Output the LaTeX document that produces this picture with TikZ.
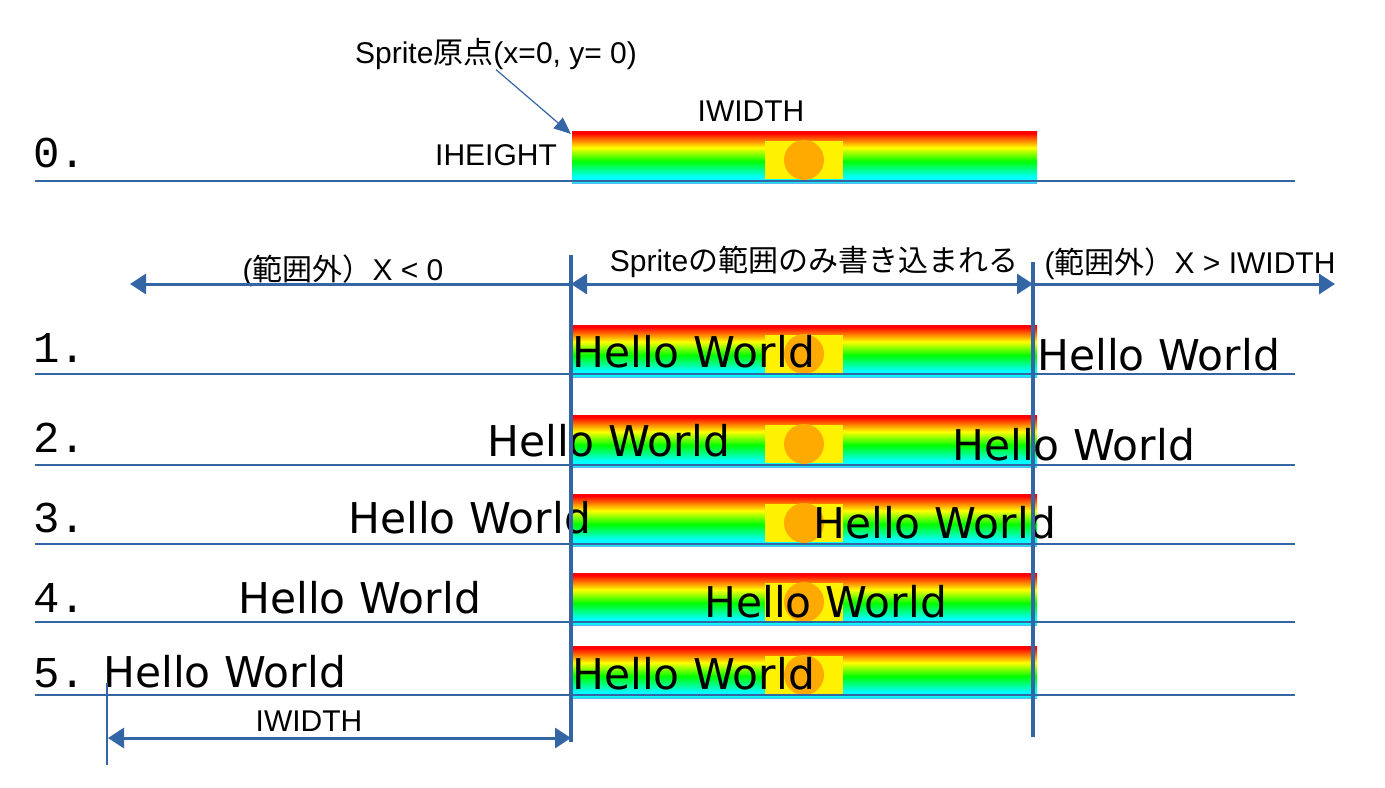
\documentclass[tikz,border=0pt]{standalone}
\usepackage{fontspec}
\setmainfont{Liberation Sans}
\newfontfamily\cjk{Noto Sans CJK JP}
\newfontfamily\hwfont{DejaVu Sans}
\newfontfamily\numfont{Liberation Mono}
\usepackage{xcolor}
\usetikzlibrary{arrows.meta}
\definecolor{lineblue}{HTML}{3465A4}
\definecolor{skybar}{HTML}{55BBEE}
\definecolor{spriteorange}{HTML}{FFAA00}
\pgfdeclareverticalshading{rainbowbar}{100bp}{color(0bp)=(skybar); color(25bp)=(skybar); color(26.5bp)=(cyan); color(31bp)=(cyan); color(46bp)=(green); color(59bp)=(yellow); color(66bp)=(orange); color(73bp)=(red); color(100bp)=(red)}

\begin{document}
\begin{tikzpicture}[x=0.5pt,y=-0.5pt,
	rowline/.style={draw=lineblue, line width=0.6pt},
	rangeline/.style={draw=lineblue, line width=2pt},
	rangearrow/.style={draw=lineblue, line width=1.5pt, -{Triangle[length=8pt,width=10pt]}},
	pointer/.style={draw=lineblue, line width=0.6pt, -{Triangle[length=8.5pt,width=7pt]}},
	note/.style={font=\fontsize{15}{18}\selectfont, anchor=base, inner sep=0pt},
	hello/.style={font=\hwfont\fontsize{21.2}{25}\selectfont, anchor=base west, inner sep=0pt},
	rownum/.style={font=\numfont\fontsize{22}{26}\selectfont, anchor=base west, inner sep=0pt}]
	\useasboundingbox (0,0) rectangle (1385,787);
	\shade[shading=rainbowbar] (572,131) rectangle (1037,183);
	\fill[yellow] (765,141) rectangle (843,179);
	\fill[spriteorange] (804,160) circle (20);
	\shade[shading=rainbowbar] (572,325) rectangle (1037,377);
	\fill[yellow] (765,335) rectangle (843,373);
	\fill[spriteorange] (804,354) circle (20);
	\shade[shading=rainbowbar] (572,415) rectangle (1037,467);
	\fill[yellow] (765,425) rectangle (843,463);
	\fill[spriteorange] (804,444) circle (20);
	\shade[shading=rainbowbar] (572,494) rectangle (1037,546);
	\fill[yellow] (765,504) rectangle (843,542);
	\fill[spriteorange] (804,523) circle (20);
	\shade[shading=rainbowbar] (572,573) rectangle (1037,625);
	\fill[yellow] (765,583) rectangle (843,621);
	\fill[spriteorange] (804,602) circle (20);
	\shade[shading=rainbowbar] (572,646) rectangle (1037,698);
	\fill[yellow] (765,656) rectangle (843,694);
	\fill[spriteorange] (804,675) circle (20);
	\draw[rowline] (35,181) -- (1295,181);
	\draw[rowline] (35,374) -- (1295,374);
	\draw[rowline] (35,465) -- (1295,465);
	\draw[rowline] (35,544) -- (1295,544);
	\draw[rowline] (35,622) -- (1295,622);
	\draw[rowline] (35,695) -- (1295,695);
	\node[rownum] (n0) at (33,167) {0.};
	\node[rownum] (n1) at (33,362) {1.};
	\node[rownum] (n2) at (33,452) {2.};
	\node[rownum] (n3) at (33,532) {3.};
	\node[rownum] (n4) at (33,612) {4.};
	\node[rownum] (n5) at (33,687) {5.};
	\node[hello] (h1a) at (572,367) {Hello World};
	\node[hello] (h1b) at (1037,370) {Hello World};
	\node[hello] (h2a) at (487,456) {Hello World};
	\node[hello] (h2b) at (952,460) {Hello World};
	\node[hello] (h3a) at (348,533) {Hello World};
	\node[hello] (h3b) at (813,538) {Hello World};
	\node[hello] (h4a) at (238,613) {Hello World};
	\node[hello] (h4b) at (704,617) {Hello World};
	\node[hello] (h5a) at (103,687) {Hello World};
	\node[hello] (h5b) at (572,689) {Hello World};
	\node[note] (org) at (496,63) {Sprite{\cjk 原点}(x=0, y= 0)};
	\node[note] (iw) at (751,121) {IWIDTH};
	\node[note] (ih) at (496,165) {IHEIGHT};
	\node[note] (outl) at (343,280) {({\cjk 範囲外）}X < 0};
	\node[note] (inr) at (814,271) {Sprite{\cjk の範囲のみ書き込まれる}};
	\node[note] (outr) at (1190,273) {({\cjk 範囲外）}X > IWIDTH};
	\node[note] (iwb) at (309,731) {IWIDTH};
	\coordinate (origin) at (571,134);
	\coordinate (lt) at (571,255);
	\coordinate (lb) at (571,742);
	\coordinate (rt) at (1033,262);
	\coordinate (rb) at (1033,737);
	\coordinate (al) at (130,284);
	\coordinate (am1) at (571,284);
	\coordinate (am2) at (1033,284);
	\coordinate (ar) at (1335,284);
	\coordinate (wl) at (108,738);
	\coordinate (wr) at (571,738);
	\coordinate (tt) at (107,683);
	\coordinate (tb) at (107,765);
	\draw[pointer] (org.south) -- (origin);
	\draw[rangeline] (lt) -- (lb);
	\draw[rangeline] (rt) -- (rb);
	\draw[rangearrow] (am1) -- (al);
	\draw[rangearrow, {Triangle[length=8pt,width=10pt]}-{Triangle[length=8pt,width=10pt]}] (am1) -- (am2);
	\draw[rangearrow] (am2) -- (ar);
	\draw[rangearrow, {Triangle[length=8pt,width=10pt]}-{Triangle[length=8pt,width=10pt]}] (wl) -- (wr);
	\draw[rowline] (tt) -- (tb);
\end{tikzpicture}
\end{document}
